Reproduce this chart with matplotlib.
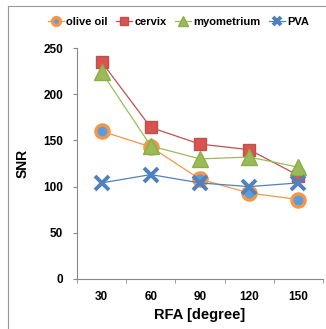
import matplotlib
matplotlib.use("Agg")
import matplotlib.pyplot as plt
from matplotlib.lines import Line2D

plt.rcParams['font.family'] = ['Liberation Sans', 'DejaVu Sans']
plt.rcParams['font.weight'] = 'bold'

# data
angles = ["30", "60", "90", "120", "150"]
olive_oil = [160, 143, 108, 93, 86]
cervix = [235, 164, 146, 140, 112]
myometrium = [224, 144, 130, 132, 121]
pva = [104, 113, 104, 100, 104]

fig = plt.figure(figsize=(3.26, 3.29), dpi=100)
ax = fig.add_axes([0.236, 0.152, 0.755, 0.702])

x = range(len(angles))

ax.plot(x, olive_oil, color='#F79646', lw=0.9, marker='o', ms=9.5,
        mfc='#5B9BE0', mec='#F79646', mew=2.4, label='olive oil')
ax.plot(x, cervix, color='#C0504D', lw=0.9, marker='s', ms=9,
        mfc='#D9534F', mec='#C0504D', mew=1, label='cervix')
ax.plot(x, myometrium, color='#9BBB59', lw=0.9, marker='^', ms=11,
        mfc='#9BBB59', mec='#8AAE48', mew=1, label='myometrium')
ax.plot(x, pva, color='#4F81BD', lw=0.9, marker='x', ms=9.5,
        mec='#4F81BD', mew=2.8, label='PVA')

ax.set_xlim(-0.5, len(angles) - 0.5)
ax.set_ylim(0, 250)
ax.set_yticks([0, 50, 100, 150, 200, 250])
ax.set_xticks(list(x))
ax.set_xticklabels(angles)
ax.set_xticks([i - 0.5 for i in range(len(angles) + 1)], minor=True)
ax.tick_params(axis='x', which='major', length=0, pad=9, labelsize=8.5)
ax.tick_params(axis='x', which='minor', length=3, color='#888888', direction='out')
ax.tick_params(axis='y', length=3, color='#888888', pad=7, labelsize=8.5)

for s in ['top', 'right']:
    ax.spines[s].set_visible(False)
for s in ['left', 'bottom']:
    ax.spines[s].set_color('#888888')
    ax.spines[s].set_linewidth(0.8)

ax.set_ylabel('SNR', fontsize=10, fontweight='bold', labelpad=10)
ax.set_xlabel('RFA [degree]', fontsize=10.5, fontweight='bold', labelpad=3)

leg = fig.legend(loc='center', bbox_to_anchor=(0.548, 0.933), ncol=4,
                 frameon=False, fontsize=8, handlelength=1.4,
                 handletextpad=0.2, columnspacing=0.8, markerscale=0.6)

# outer chart frame (left and top edges visible)
fig.add_artist(Line2D([0.025, 0.025], [0.0, 0.982], transform=fig.transFigure,
                      color='#999999', lw=0.8))
fig.add_artist(Line2D([0.025, 1.0], [0.982, 0.982], transform=fig.transFigure,
                      color='#999999', lw=0.8))

fig.savefig('out.png', dpi=100)
